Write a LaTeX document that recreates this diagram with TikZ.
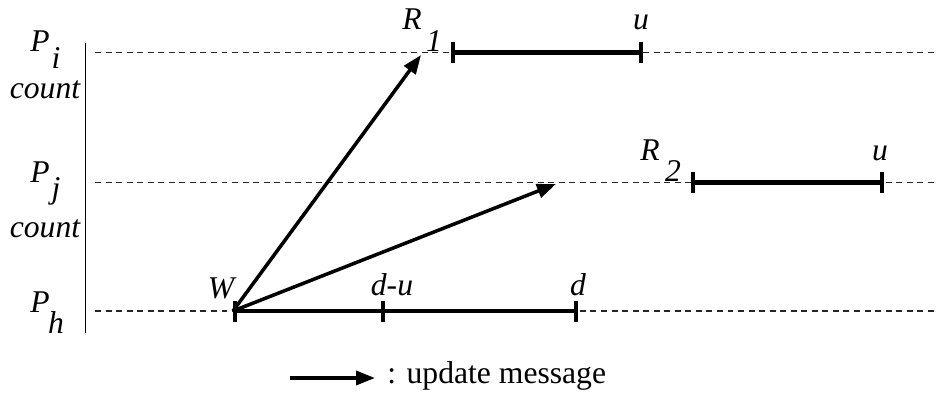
\documentclass[tikz,border=0pt]{standalone}
\usepackage{fontspec}
\setmainfont{Liberation Serif}
\usetikzlibrary{arrows.meta}

\tikzset{
  proc/.style={dash pattern=on 3.4pt off 2.6pt, line width=0.7pt, black!85},
  span/.style={line width=2.4pt, {Bar[width=0.42cm]}-{Bar[width=0.42cm]}},
  msg/.style={line width=2pt, -{Triangle[length=0.38cm,width=0.28cm]}},
  lab/.style={font=\fontsize{18}{21}\selectfont\itshape, inner sep=0pt, anchor=base},
}

\begin{document}
\begin{tikzpicture}[x=0.02cm,y=-0.02cm]
\useasboundingbox (0,0) rectangle (936,395);

% process axis and time lines
\draw[line width=0.8pt] (85.5,43) -- (85.5,333);
\foreach \nm/\y in {i/52.5,j/182.5,h/311} {
    \coordinate (s\nm) at (95,\y);
    \coordinate (e\nm) at (936,\y);
    \draw[proc] (s\nm) -- (e\nm);
}

% process names
\foreach \nm/\y/\sub in {i/52/69,j/182/198,h/312/333} {
    \node[lab] (P\nm) at (40,\y) {P};
    \node[lab] (P\nm sub) at (56,\sub) {\nm};
}
\node[lab] (cnti) at (45,98) {count};
\node[lab] (cntj) at (45,237) {count};

% intervals
\coordinate (r1) at (451,52.5);
\coordinate (u1) at (643,52.5);
\coordinate (r2) at (690.5,182.5);
\coordinate (u2) at (884,182.5);
\coordinate (w) at (233,311);
\coordinate (du) at (383,311);
\coordinate (d) at (578,311);
\draw[span] (r1) -- (u1);
\draw[span] (r2) -- (u2);
\draw[span] (w) -- (d);
\draw[line width=2.4pt] (du) ++(0,-10.5) -- ++(0,21);

% labels
\node[lab] (R1) at (412,30) {R};
\node[lab] (R1sub) at (434,52) {1};
\node[lab] (u1lab) at (641,30) {u};
\node[lab] (R2) at (650,160) {R};
\node[lab] (R2sub) at (673,181) {2};
\node[lab] (u2lab) at (880,160) {u};
\node[lab] (Wlab) at (221,298) {W};
\node[lab] (dulab) at (392,295) {d-u};
\node[lab] (dlab) at (578,295) {d};

% update messages
\coordinate (m1) at (421,55);
\coordinate (m2) at (556,184);
\draw[msg] (w) -- (m1);
\draw[msg] (w) -- (m2);

% legend
\coordinate (lg1) at (290,378);
\coordinate (lg2) at (375,378);
\draw[msg] (lg1) -- (lg2);
\node[font=\fontsize{18}{21}\selectfont, inner sep=0pt, anchor=base west] (lgtext) at (387,383) {: update message};
\end{tikzpicture}
\end{document}
